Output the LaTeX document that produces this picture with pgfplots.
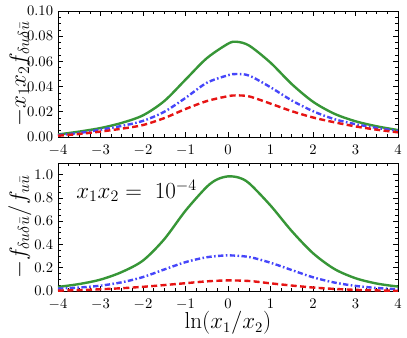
\documentclass[border=0pt]{standalone}
\usepackage{pgfplots}
\pgfplotsset{compat=1.18}
\definecolor{cg}{RGB}{55,150,55}
\definecolor{cb}{RGB}{70,70,250}
\definecolor{cr}{RGB}{230,20,20}
\pgfplotsset{
  panel/.style={
    scale only axis, width=255pt,
    xmin=-4, xmax=4, xtick={-4,-3,...,4}, minor x tick num=3,
    tick align=inside, tick pos=both,
    major tick length=4pt, minor tick length=2.2pt,
    tick style={black, line width=0.5pt},
    axis line style={line width=0.6pt},
    tick label style={font=\fontsize{10.5}{12}\selectfont, inner sep=0.8pt},
    xticklabel style={yshift=-5.4pt},
    yticklabel style={xshift=-2.7pt},
    ylabel style={at={(axis description cs:-0.112,0.5)}, anchor=center, font=\fontsize{17.5}{20}\selectfont},
    every axis plot/.append style={line width=1.8pt, smooth},
  },
  gs/.style={color=cg, solid},
  bs/.style={color=cb, dash pattern=on 4pt off 1.8pt on 1.2pt off 1.8pt},
  rs/.style={color=cr, dash pattern=on 4.5pt off 2.5pt},
}
\begin{document}
\begin{tikzpicture}
\begin{axis}[panel, height=94.5pt, at={(0,0)},
  ymin=0, ymax=0.1, ytick={0,0.02,...,0.1}, minor y tick num=3,
  yticklabel style={/pgf/number format/.cd, fixed, fixed zerofill, precision=2},
  ylabel={$-x_1x_2 f_{\delta u\delta\bar u}$}]
\addplot[gs] coordinates {(-4,0.0020) (-3.5,0.0043) (-3,0.0071) (-2.5,0.0112) (-2,0.0172) (-1.5,0.0285) (-1,0.0455) (-0.5,0.0625) (0,0.0740) (0.2,0.0756) (0.5,0.0725) (1,0.0590) (1.5,0.0420) (2,0.0280) (2.5,0.0185) (3,0.0125) (3.5,0.0085) (4,0.0055)};
\addplot[bs] coordinates {(-4,0.0015) (-3.5,0.0032) (-3,0.0058) (-2.5,0.0088) (-2,0.0128) (-1.5,0.0200) (-1,0.0310) (-0.5,0.0430) (0,0.0490) (0.2,0.0500) (0.5,0.0487) (1,0.0395) (1.5,0.0290) (2,0.0205) (2.5,0.0142) (3,0.0102) (3.5,0.0072) (4,0.0048)};
\addplot[rs] coordinates {(-4,0.0010) (-3.5,0.0024) (-3,0.0043) (-2.5,0.0066) (-2,0.0095) (-1.5,0.0150) (-1,0.0222) (-0.5,0.0285) (0,0.0324) (0.2,0.0330) (0.5,0.0322) (1,0.0265) (1.5,0.0205) (2,0.0155) (2.5,0.0117) (3,0.0084) (3.5,0.0058) (4,0.0037)};
\end{axis}
\begin{axis}[panel, height=96pt, at={(0,-115.5pt)},
  ymin=0, ymax=1.1, ytick={0,0.2,...,1.0}, minor y tick num=3,
  yticklabel style={/pgf/number format/.cd, fixed, fixed zerofill, precision=1},
  ylabel={$-f_{\delta u\delta\bar u}/f_{u\bar u}$},
  xlabel={$\ln(x_1/x_2)$},
  xlabel style={at={(axis description cs:0.5,-0.25)}, anchor=center, font=\fontsize{16}{19}\selectfont}]
\addplot[gs] coordinates {(-4,0.035) (-3.5,0.060) (-3,0.098) (-2.5,0.163) (-2,0.262) (-1.5,0.445) (-1,0.690) (-0.5,0.895) (-0.25,0.960) (0,0.985) (0.25,0.975) (0.5,0.925) (1,0.735) (1.5,0.515) (2,0.325) (2.5,0.190) (3,0.110) (3.5,0.064) (4,0.038)};
\addplot[bs] coordinates {(-4,0.020) (-3.5,0.030) (-3,0.046) (-2.5,0.075) (-2,0.120) (-1.5,0.185) (-1,0.248) (-0.5,0.290) (0,0.306) (0.5,0.292) (1,0.243) (1.5,0.180) (2,0.118) (2.5,0.073) (3,0.044) (3.5,0.026) (4,0.015)};
\addplot[rs] coordinates {(-4,0.003) (-3.5,0.008) (-3,0.015) (-2.5,0.024) (-2,0.036) (-1.5,0.051) (-1,0.067) (-0.5,0.083) (0,0.091) (0.5,0.086) (1,0.066) (1.5,0.047) (2,0.030) (2.5,0.018) (3,0.010) (3.5,0.005) (4,0.002)};
\node[font=\fontsize{16.5}{19}\selectfont] at (axis cs:-2.15,0.86) {$x_1x_2=\;10^{-4}$};
\end{axis}
\pgfresetboundingbox
\path (-43.5pt,-150pt) rectangle (261.75pt,102.75pt);
\end{tikzpicture}
\end{document}
